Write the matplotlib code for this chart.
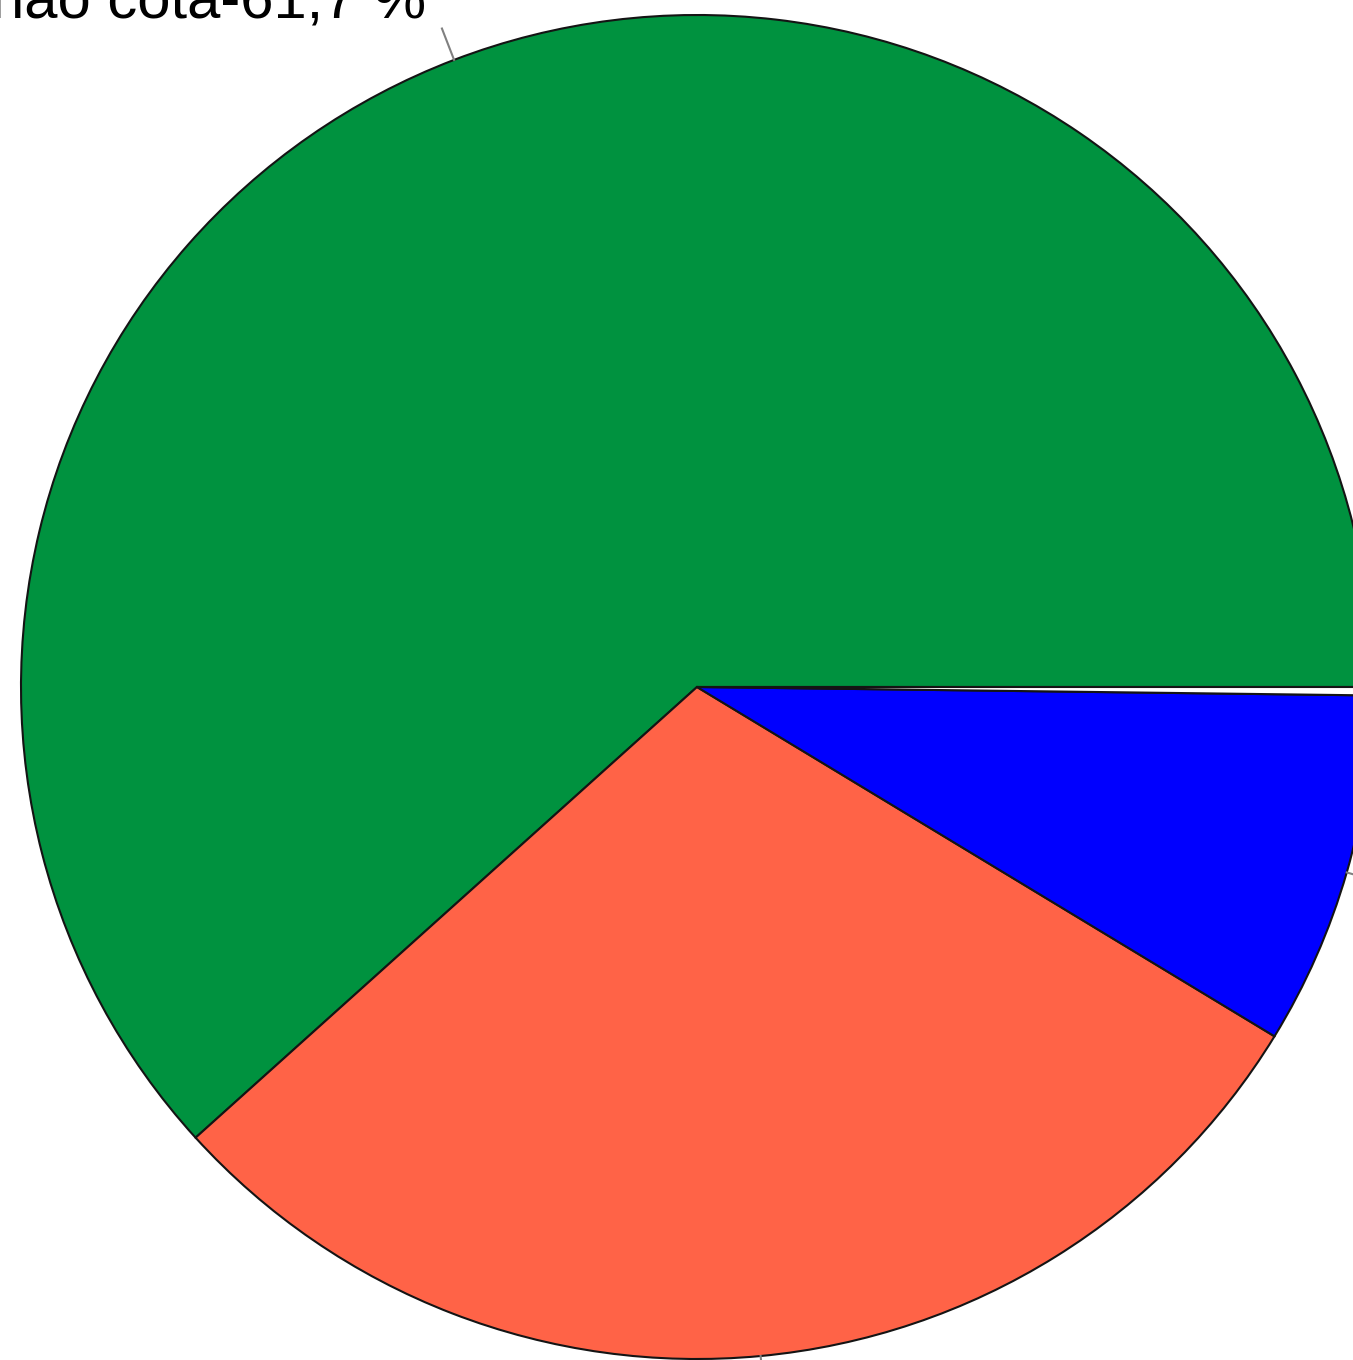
import numpy as np
import matplotlib
matplotlib.use('Agg')
import matplotlib.pyplot as plt

plt.rcParams['font.family'] = ['Liberation Sans', 'DejaVu Sans']

# dados (fatias em %)
categorias = ['não cota', '', '', '']
valores = [61.7, 29.6, 8.5, 0.2]
cores = ['#00923F', '#FF6347', '#0000FF', '#FFFFFF']

W, H = 1353, 1360
fig = plt.figure(figsize=(W / 100, H / 100), dpi=100)
ax = fig.add_axes([0, 0, 1, 1])

wedges, _ = ax.pie(valores, colors=cores, startangle=0, counterclock=True,
                   wedgeprops=dict(edgecolor='#141414', linewidth=1.5))

# linhas de chamada e rótulos
for w, nome, v in zip(wedges, categorias, valores):
    ang = np.deg2rad((w.theta1 + w.theta2) / 2)
    x0, y0 = np.cos(ang), np.sin(ang)
    x1, y1 = 1.05 * x0, 1.05 * y0
    ax.plot([x0, x1], [y0, y1], color='#808080', lw=1.5)
    if nome:
        txt = '%s-%s %%' % (nome, ('%.1f' % v).replace('.', ','))
        ha = 'right' if x1 < 0 else 'left'
        dx = -0.024 if x1 < 0 else 0.024
        ax.text(x1 + dx, y1 + 0.016, txt, ha=ha, va='baseline',
                fontsize=43, color='black')

# recorte como na imagem original (centro em pixel 697,687)
cx, cy, rx, ry = 697, 687, 676, 672
ax.set_aspect('auto')
ax.set_xlim(-cx / rx, (W - cx) / rx)
ax.set_ylim((cy - H) / ry, cy / ry)
ax.axis('off')

fig.savefig('out.png', dpi=100)
